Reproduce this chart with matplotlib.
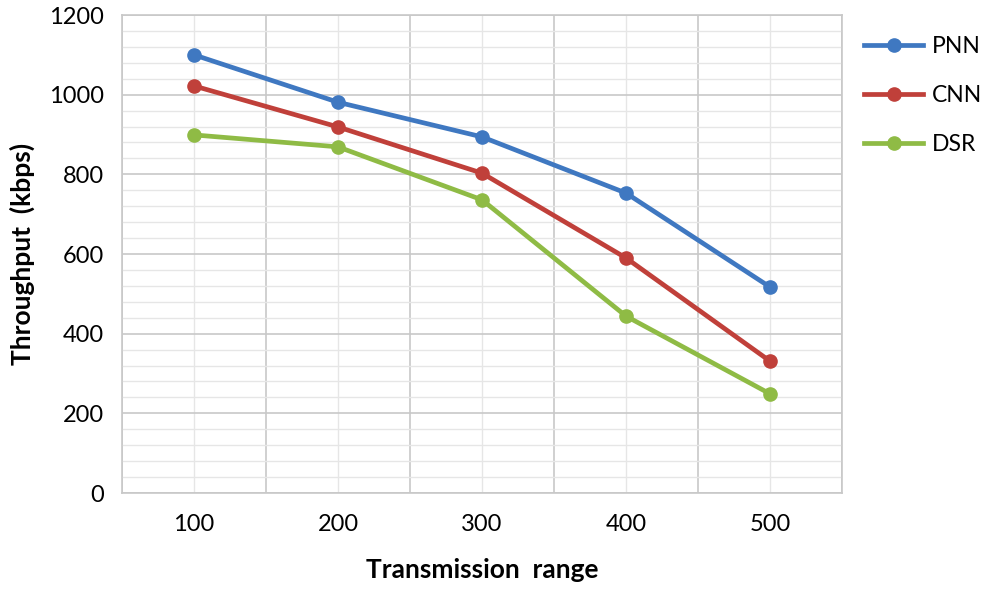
import matplotlib.pyplot as plt
import numpy as np
from matplotlib.ticker import MultipleLocator

# data
ranges = ['100', '200', '300', '400', '500']
pnn = [1100, 981, 894, 753, 517]
cnn = [1022, 919, 803, 590, 331]
dsr = [899, 869, 736, 444, 249]

series = [('PNN', pnn, '#3f78c1'), ('CNN', cnn, '#c0403a'), ('DSR', dsr, '#8fbb45')]

plt.rcParams['font.family'] = ['Lato', 'DejaVu Sans']

fig = plt.figure(figsize=(9.91, 5.91), dpi=100)
ax = fig.add_axes([0.1231, 0.1658, 0.7266, 0.8088])

x = np.arange(len(ranges))
for name, vals, col in series:
    ax.plot(x, vals, color=col, lw=3.4, marker='o', ms=9.5, label=name)

ax.set_xlim(-0.5, len(ranges) - 0.5)
ax.set_ylim(0, 1200)
ax.set_xticks(x)
ax.set_xticklabels(ranges)
ax.yaxis.set_major_locator(MultipleLocator(200))
ax.yaxis.set_minor_locator(MultipleLocator(40))
ax.set_xticks(np.arange(-0.5, len(ranges)), minor=True)

# grid: darker at majors / category edges, lighter at minors / centres
ax.grid(which='major', axis='y', color='#c8c8c8', lw=1.2)
ax.grid(which='minor', axis='y', color='#e6e6e6', lw=1.0)
ax.grid(which='minor', axis='x', color='#c8c8c8', lw=1.2)
ax.grid(which='major', axis='x', color='#e6e6e6', lw=1.0)
ax.set_axisbelow(True)

for s in ax.spines.values():
    s.set_color('#c8c8c8')
    s.set_linewidth(1.2)
ax.tick_params(which='both', length=0)
ax.tick_params(axis='y', labelsize=17, pad=13)
ax.tick_params(axis='x', labelsize=17, pad=15)

ax.set_ylabel('Throughput  (kbps)', fontsize=19, fontweight='bold', labelpad=10)
ax.set_xlabel('Transmission  range', fontsize=19, fontweight='bold', labelpad=17)

ax.legend(loc='upper left', bbox_to_anchor=(1.008, 0.99), frameon=False,
          fontsize=16.5, handlelength=2.6, labelspacing=1.22, handletextpad=0.35,
          borderaxespad=0.3)

fig.savefig('out.png', dpi=100)
